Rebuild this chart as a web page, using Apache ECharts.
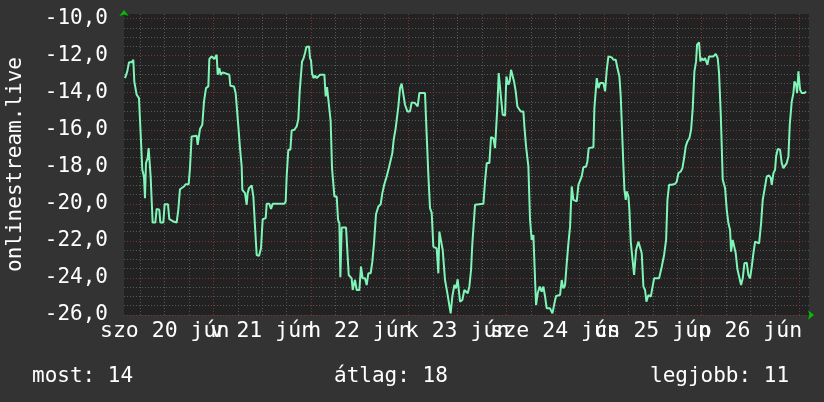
<!DOCTYPE html>
<html lang="en">
<head>
    <meta charset="UTF-8">
    <title>onlinestream.live</title>
    <script src="https://cdn.jsdelivr.net/npm/echarts@6/dist/echarts.min.js"></script>
    <style>
        html, body { margin: 0; padding: 0; background: #333333; }
        #main { width: 824px; height: 402px; }
    </style>
</head>
<body>
    <div id="main"></div>
    <script>
        // hours counted from jún 20 00:00
        var hours1 = [2.24,2.81,3.22,3.88,4.29,4.53,5.11,5.68,6.09,6.50,6.91,7.16,7.40,7.81,8.06,8.39,8.55,8.88,9.04,9.70,10.03,10.68,10.93,11.67,11.99,12.81,13.14,14.12,14.94,15.35,15.76,16.75,17.16,17.90,18.22,18.63,19.86,20.11,20.44,20.68,21.25,21.67,22.16,22.73,22.98,23.55,24.21,24.78,25.03,25.44,25.76,26.26,27.90,28.14,29.04,29.45];
        var temps1 = [-13.21,-12.85,-12.36,-12.36,-12.22,-13.39,-14.11,-14.29,-16.18,-18.16,-18.52,-19.69,-17.80,-17.53,-16.99,-16.99,-18.52,-18.52,-21.01,-21.01,-20.27,-20.32,-21.01,-21.01,-20.02,-20.02,-20.83,-20.95,-21.01,-20.32,-19.21,-19.06,-18.94,-18.94,-18.07,-16.36,-16.32,-16.81,-16.81,-15.96,-15.73,-14.47,-13.75,-13.66,-12.18,-12.04,-12.18,-11.95,-13.03,-12.67,-13.03,-12.90,-13.03,-13.62,-13.66,-14.02];

        var hours2 = [29.70,30.11,30.52,30.93,31.09,31.75,32.16,32.40,32.73,33.39,33.80,34.21,34.45,34.62,35.19,35.68,36.09,36.83,37.08,37.73,38.14,38.55,41.42,41.75,42.00,42.40,42.90,43.22,43.88,44.45,44.86,45.19,45.52,45.77,46.09,46.50,46.83,47.49,47.73,47.98,48.23,48.63,48.96,49.37,49.78,50.19,51.26,51.58,51.91,52.40,52.81,53.14,53.55,53.72,54.29,54.62,54.95,55.19,55.36,55.52,56.59,57.00,57.24];
        var temps2 = [-14.70,-15.82,-16.99,-17.98,-19.24,-19.42,-20.05,-19.42,-19.15,-19.01,-19.60,-21.23,-21.23,-22.76,-22.81,-22.40,-20.83,-20.77,-20.00,-20.00,-20.27,-20.00,-20.00,-19.87,-18.47,-17.08,-17.08,-16.04,-16.00,-15.82,-15.42,-13.93,-13.93,-12.31,-12.18,-11.86,-11.53,-11.50,-12.13,-12.25,-12.97,-13.21,-13.08,-13.21,-13.12,-13.03,-13.03,-14.20,-13.69,-13.75,-15.55,-18.07,-18.16,-19.60,-19.60,-20.86,-21.05,-23.96,-23.96,-21.28,-21.28,-21.32,-23.84];

        var hours3 = [57.56,57.97,58.22,58.79,59.20,59.86,60.26,60.67,61.25,61.66,62.07,62.64,63.05,63.46,63.95,64.53,65.10,65.51,66.00,66.58,67.15,67.56,67.97,68.30,68.79,69.12,69.45,69.86,70.26,70.67,71.08,71.66,72.31,72.72,73.54,74.20,74.61,76.00,76.41,76.82,77.23,77.64,78.05,78.87,79.28,79.53,79.86,80.35,80.92,81.50,81.90,82.31,82.72,83.22,83.63,84.03,84.61,85.18,85.67];
        var temps3 = [-23.84,-24.02,-24.65,-24.10,-24.65,-24.65,-23.39,-24.02,-24.02,-24.38,-23.75,-23.75,-23.12,-22.13,-20.56,-20.14,-20.02,-19.42,-18.94,-18.52,-18.02,-17.98,-17.26,-16.54,-15.91,-15.91,-14.74,-13.75,-13.51,-13.51,-14.65,-15.01,-15.01,-14.52,-14.56,-14.74,-14.02,-14.02,-16.27,-18.43,-20.23,-20.47,-22.31,-22.40,-23.75,-21.50,-21.41,-22.49,-24.11,-24.83,-25.37,-25.91,-25.00,-24.38,-24.56,-24.07,-25.28,-25.19,-24.65];

        var hours4 = [86.50,86.90,87.32,87.64,88.05,88.30,90.35,90.76,91.17,91.82,92.23,92.81,93.22,93.55,93.79,94.12,94.45,94.69,95.10,95.68,96.00,96.50,96.82,97.15,97.48,97.89,98.30,98.71,99.12,99.53,100.18,100.43,100.84,101.41,101.82,102.23,102.64,103.05,103.30,103.71,104.20,104.69,105.10,105.51,105.92,106.74,107.32,107.81,108.22,109.20,109.61,110.02,110.43,110.84,111.25,111.66,112.07,112.48,113.30,113.71];
        var temps4 = [-24.83,-24.47,-23.57,-22.13,-22.04,-20.05,-20.00,-18.79,-17.80,-17.80,-16.40,-16.45,-16.99,-16.99,-14.74,-12.94,-12.94,-14.29,-15.19,-15.24,-13.12,-13.57,-13.39,-12.76,-12.76,-13.39,-13.93,-14.74,-14.83,-15.01,-15.01,-15.82,-16.90,-17.98,-20.86,-21.95,-21.68,-21.59,-25.46,-24.83,-24.47,-24.74,-24.47,-25.00,-25.64,-25.64,-25.91,-25.37,-24.97,-24.92,-24.11,-24.56,-24.38,-23.21,-22.13,-21.23,-19.06,-19.78,-19.87,-18.97];

        var hours5 = [114.12,114.53,114.94,115.60,115.92,116.25,117.40,117.64,117.97,118.22,118.63,119.04,119.45,119.86,120.27,120.68,121.09,121.91,122.32,122.89,123.30,123.79,124.12,124.45,124.78,125.02,125.35,125.60,126.01,126.25,126.58,127.07,127.40,127.64,127.89,128.46,128.87,129.28,129.69,130.10,130.43,130.92,131.50,131.99,132.32,133.55,134.20,134.78,135.27,135.60,136.00,136.66,137.48,137.89,138.30,138.87,139.28,139.69,140.10,140.51,141.00,141.42,141.82,142.23];
        var temps5 = [-18.88,-18.52,-18.02,-17.98,-17.71,-16.99,-16.94,-14.83,-14.74,-13.21,-13.75,-13.48,-13.39,-13.48,-13.93,-12.76,-12.04,-12.09,-12.22,-12.22,-12.67,-13.12,-14.20,-14.29,-17.98,-19.24,-19.78,-19.33,-19.60,-20.32,-22.04,-22.04,-23.84,-23.84,-22.49,-22.04,-22.04,-22.67,-24.47,-24.65,-25.28,-24.92,-25.01,-24.92,-24.02,-24.02,-23.39,-22.76,-21.95,-19.78,-18.97,-18.97,-18.92,-18.79,-18.34,-18.25,-18.07,-17.53,-16.90,-16.63,-16.45,-16.00,-14.83,-12.85];

        var hours6 = [142.64,142.88,143.37,143.70,144.03,144.44,144.85,145.42,145.83,146.90,147.47,147.96,148.29,148.70,148.95,149.19,149.77,150.18,150.59,151.00,151.24,151.65,152.06,152.39,152.80,153.29,153.70,154.11,154.52,155.09,155.50,155.91,156.33,156.73,157.15,158.13,158.62,159.03,159.60,160.01,160.59,161.00,161.24,161.65,162.06,162.31,162.72,163.29,163.70,164.11,164.52,164.93,165.34,165.67,166.16,166.57,166.82,167.23,167.47,167.80,168.21,168.62,169.28,169.69];
        var temps6 = [-12.31,-11.41,-11.28,-12.31,-12.13,-12.25,-12.13,-12.49,-12.04,-12.04,-11.91,-12.13,-12.94,-15.10,-16.90,-18.70,-19.15,-20.32,-21.05,-21.41,-22.58,-21.95,-22.04,-22.67,-23.53,-23.57,-24.38,-24.02,-23.21,-23.17,-23.84,-24.02,-23.39,-22.67,-22.04,-22.13,-21.05,-19.78,-19.06,-18.52,-18.47,-18.61,-18.97,-18.34,-18.16,-17.44,-17.03,-17.08,-17.80,-18.07,-18.12,-17.80,-17.44,-15.73,-14.47,-14.02,-13.39,-13.57,-14.02,-12.85,-13.84,-14.02,-14.02,-13.93];

        // x labels sit at noon (they overlap, like the original), major lines at midnight
        var noonHours = [12, 36, 60, 84, 108, 132, 156];
        var dayLabels = ['szo 20 jún', 'v 21 jún', 'h 22 jún', 'k 23 jún', 'sze 24 jún', 'cs 25 jún', 'p 26 jún'];
        var midnightHours = [24, 48, 72, 96, 120, 144, 168];
        var quarterHours = [6, 12, 18, 30, 36, 42, 54, 60, 66, 78, 84, 90, 102, 108, 114, 126, 132, 138, 150, 156, 162];
        var yLabels = [-26, -24, -22, -20, -18, -16, -14, -12, -10];
        var legendTexts = ['most: 14', 'átlag: 18', 'legjobb: 11'];

        var xMin = 2, xMax = 170.4;
        var yMin = -26, yMax = -9.75;

        var yMinor = [];
        for (var v = yMin; v <= -10; v += 0.5) {
            if (v % 2 !== 0) yMinor.push(v);
        }

        // split the labels over two axes so none of them gets hidden as overlapping
        var noonEven = noonHours.filter(function (h, i) { return i % 2 === 0; });
        var noonOdd = noonHours.filter(function (h, i) { return i % 2 === 1; });

        var allHours = hours1.concat(hours2, hours3, hours4, hours5, hours6);
        var allTemps = temps1.concat(temps2, temps3, temps4, temps5, temps6);
        var seriesData = allHours.map(function (h, i) { return [h, allTemps[i]]; });

        var font = 'DejaVu Sans Mono';
        var gray = '#575757';
        var red = '#7d3434';

        function dayLabel(val) {
            return dayLabels[noonHours.indexOf(val)];
        }
        function labelAxis(values) {
            return {
                type: 'value', min: xMin, max: xMax, position: 'bottom',
                axisLine: { show: false },
                axisTick: { show: false, customValues: values },
                splitLine: { show: false },
                axisLabel: {
                    customValues: values, margin: 5, showMinLabel: true, showMaxLabel: true,
                    color: '#ffffff', fontFamily: font, fontSize: 21.5,
                    formatter: dayLabel
                }
            };
        }

        var myChart = echarts.init(document.getElementById('main'));
        var option = {
            backgroundColor: '#333333',
            animation: false,
            grid: {
                left: 124, top: 14, width: 685, height: 301,
                outerBoundsMode: 'none', containLabel: false,
                show: true, backgroundColor: '#222222', borderWidth: 0
            },
            xAxis: [{
                type: 'value', min: xMin, max: xMax, position: 'bottom',
                axisLine: {
                    show: true, symbol: ['none', 'arrow'], symbolSize: [7, 6], symbolOffset: [0, 5],
                    lineStyle: { color: '#00c000', width: 0 }
                },
                axisTick: { show: false, customValues: quarterHours },
                splitLine: { show: true, lineStyle: { color: gray, type: [1, 2], width: 1 } },
                axisLabel: { show: false }
            }, {
                type: 'value', min: xMin, max: xMax, position: 'bottom',
                axisLine: { show: false },
                axisTick: { show: false, customValues: midnightHours },
                axisLabel: { show: false },
                splitLine: { show: true, lineStyle: { color: red, type: [1, 2], width: 1 } }
            },
                labelAxis(noonEven),
                labelAxis(noonOdd)
            ],
            yAxis: [{
                type: 'value', min: yMin, max: yMax,
                axisLine: {
                    show: true, symbol: ['none', 'arrow'], symbolSize: [7, 6], symbolOffset: [0, 4],
                    lineStyle: { color: '#00c000', width: 0 }
                },
                axisTick: { show: false, customValues: yMinor },
                axisLabel: { show: false },
                splitLine: { show: true, lineStyle: { color: gray, type: [1, 2], width: 1 } }
            }, {
                type: 'value', min: yMin, max: yMax, position: 'left',
                name: 'onlinestream.live', nameLocation: 'middle', nameRotate: 90, nameGap: 98,
                nameTextStyle: { color: '#ffffff', fontFamily: font, fontSize: 21 },
                axisLine: { show: false },
                axisTick: { show: false, customValues: yLabels },
                splitLine: { show: true, lineStyle: { color: red, type: [1, 2], width: 1 } },
                axisLabel: {
                    customValues: yLabels, margin: 16,
                    color: '#ffffff', fontFamily: font, fontSize: 21,
                    formatter: function (val) { return val.toFixed(1).replace('.', ','); }
                }
            }],
            graphic: [
                { type: 'text', left: 32, top: 366, style: { text: legendTexts[0], fill: '#ffffff', font: '21px "DejaVu Sans Mono"' } },
                { type: 'text', left: 334, top: 366, style: { text: legendTexts[1], fill: '#ffffff', font: '21px "DejaVu Sans Mono"' } },
                { type: 'text', left: 650, top: 366, style: { text: legendTexts[2], fill: '#ffffff', font: '21px "DejaVu Sans Mono"' } }
            ],
            series: [{
                type: 'line',
                xAxisIndex: 0, yAxisIndex: 0,
                data: seriesData,
                showSymbol: false,
                lineStyle: { color: '#7ff5b8', width: 2 },
                z: 5
            }]
        };
        myChart.setOption(option);
    </script>
</body>
</html>
